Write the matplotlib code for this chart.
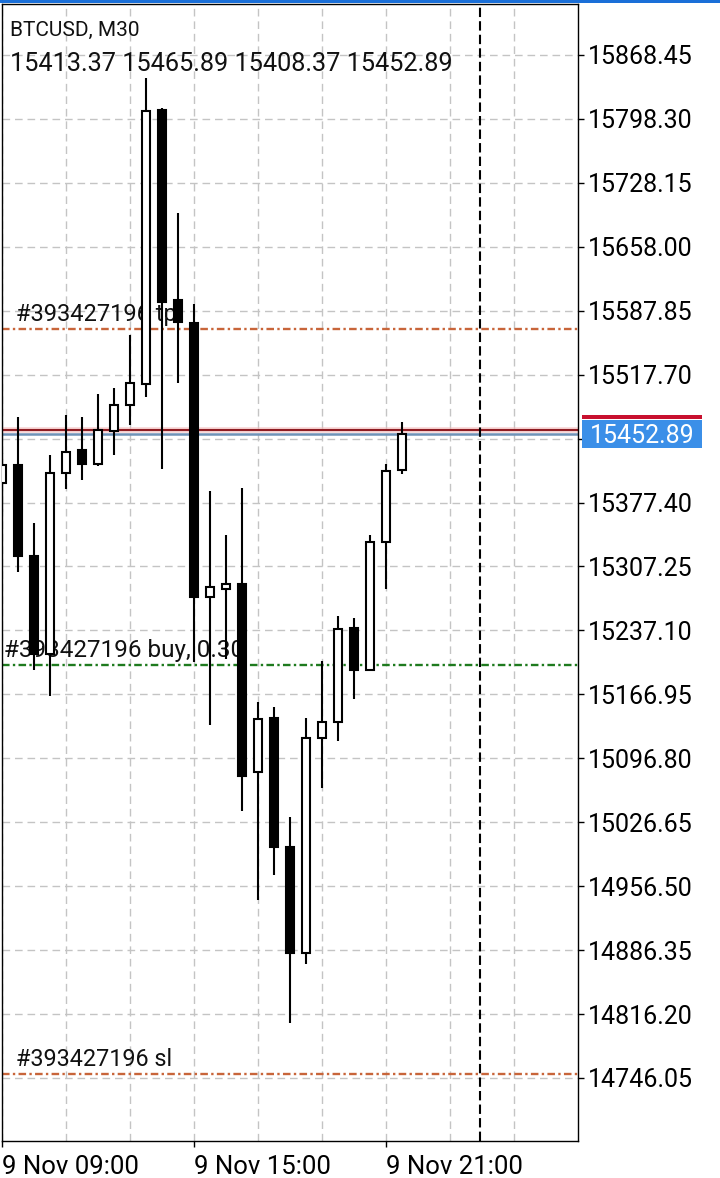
import matplotlib
matplotlib.use("Agg")
import matplotlib.pyplot as plt
from matplotlib.patches import Rectangle

plt.rcParams['font.family'] = ['Roboto', 'DejaVu Sans']

# --- chart data (BTCUSD, M30, 9 Nov 09:00 .. 21:30) ---
symbol = "BTCUSD, M30"
opens = [15398.9, 15419.0, 15318.8, 15211.3, 15409.9, 15435.1, 15419.7, 15456.0,
         15484.5, 15507.5, 15808.1, 15599.7, 15574.4, 15273.8, 15282.6, 15288.1,
         15081.8, 15141.0, 14999.5, 14883.2, 15119.1, 15136.6, 15239.7, 15193.7,
         15334.2, 15413.37]
highs = [15431.8, 15471.3, 15355.0, 15429.6, 15473.5, 15471.3, 15496.5, 15503.1,
         15561.3, 15843.2, 15810.3, 15695.1, 15595.3, 15390.1, 15341.8, 15393.4,
         15158.6, 15153.1, 15032.4, 15141.0, 15203.6, 15253.0, 15250.8, 15341.8,
         15419.7, 15465.89]
lows = [15367.1, 15301.2, 15193.7, 15165.2, 15392.3, 15402.2, 15418.0, 15429.6,
        15462.5, 15493.2, 15414.2, 15508.6, 15202.5, 15133.4, 15205.8, 15039.0,
        14941.4, 14968.8, 14806.4, 14871.1, 15064.2, 15115.8, 15161.9, 15193.0,
        15282.6, 15408.37]
closes = [15418.6, 15318.8, 15211.3, 15409.9, 15432.9, 15419.7, 15457.0, 15484.5,
          15508.6, 15807.0, 15597.5, 15575.5, 15273.8, 15284.8, 15288.1, 15077.4,
          15140.0, 14999.5, 14883.2, 15119.1, 15136.6, 15238.7, 15193.7, 15334.2,
          15412.0, 15452.89]

x_tick_pos = [0, 12, 24]
x_tick_labels = ["9 Nov 09:00", "9 Nov 15:00", "9 Nov 21:00"]
x_grid_pos = [4, 8, 16, 20, 28, 32]
y_tick_labels = ["14746.05", "14816.20", "14886.35", "14956.50", "15026.65",
                 "15096.80", "15166.95", "15237.10", "15307.25", "15377.40",
                 "15447.55", "15517.70", "15587.85", "15658.00", "15728.15",
                 "15798.30", "15868.45"]
hidden_label = "15447.55"  # covered by the bid price tag

ask = 15457.0
bid = 15452.89
order_id = "#393427196"
tp_price = 15567.8
buy_price = 15199.2
sl_price = 14750.4
shift_line = 29.9

# --- figure ---
W, H = 720, 1178
fig = plt.figure(figsize=(W / 100, H / 100), dpi=100)
ax = fig.add_axes([1.5 / W, 37 / H, 576.5 / W, 1137 / H])
ymin, ymax = 14676.9, 15924.4
ax.set_xlim(-0.03, 36.0)
ax.set_ylim(ymin, ymax)
dpu = (ymax - ymin) / 1137.0  # price units per pixel

# grid
ax.set_xticks(x_tick_pos)
ax.set_xticklabels(x_tick_labels, ha='left')
ax.set_xticks(x_grid_pos, minor=True)
ax.set_yticks([float(t) for t in y_tick_labels])
ax.set_yticklabels(['' if t == hidden_label else t for t in y_tick_labels])
ax.yaxis.tick_right()
ax.grid(True, which='both', color='#c4c4c4', lw=1.0, ls=(0, (5.5, 3.5)), zorder=0)
ax.set_axisbelow(True)
ax.tick_params(axis='x', which='major', length=4, width=1, pad=6, labelsize=18.5)
ax.tick_params(axis='x', which='minor', length=0)
ax.tick_params(axis='y', length=4, width=1, pad=3, labelsize=18)
for s in ax.spines.values():
    s.set_linewidth(1.0)
    s.set_color('black')

# candles
w = 0.5
for i, (o, h, l, c) in enumerate(zip(opens, highs, lows, closes)):
    up = c >= o
    ax.vlines(i, l, h, color='black', lw=1.5, zorder=3)
    ax.add_patch(Rectangle((i - w / 2, min(o, c)), w, abs(c - o),
                           facecolor='white' if up else 'black',
                           edgecolor='black', lw=1.5, zorder=4))

# order levels
dashdot = (0, (3.2, 1.4, 1, 1.4))
ax.axhline(tp_price, color='#c8653a', lw=1.7, ls=dashdot, zorder=2)
ax.axhline(sl_price, color='#c8653a', lw=1.7, ls=dashdot, zorder=2)
ax.axhline(buy_price, color='#1e7a1e', lw=1.7, ls=dashdot, zorder=2)
ax.axhline(ask, color='#f4b8b8', lw=4, alpha=0.6, zorder=2)
ax.axhline(ask, color='#8e1c22', lw=1.5, zorder=2)
ax.axhline(bid, color='#6f93b8', lw=1.8, zorder=2)
ax.axvline(shift_line, color='black', lw=1.5, ls=(0, (4.5, 2)), zorder=2)

ytr = ax.get_yaxis_transform()
for txt, price, dx, fs in [(order_id + " tp", tp_price, 15, 17),
                           (order_id + " buy, 0.30", buy_price, 3, 17.5),
                           (order_id + " sl", sl_price, 15, 16.8)]:
    ax.annotate(txt, xy=(0, price), xycoords=ytr, xytext=(dx, 8),
                textcoords='offset pixels', fontsize=fs, va='baseline',
                color='#111111', zorder=2.5)

# header
ax.annotate(symbol, xy=(0, 1), xycoords='axes fraction', xytext=(8, -32),
            textcoords='offset pixels', fontsize=15, va='baseline', color='#111111')
ax.annotate(" ".join(f"{v:.2f}" for v in (opens[-1], highs[-1], lows[-1], closes[-1])),
            xy=(0, 1), xycoords='axes fraction', xytext=(8, -67),
            textcoords='offset pixels', fontsize=18.2, va='baseline', color='#111111')

# bid price tag on the right scale
bx0, bw = (582 - 1.5) / 576.5, 120 / 576.5
ax.add_patch(Rectangle((bx0, bid - 14 * dpu), bw, 28 * dpu, transform=ytr,
                       facecolor='#3b8fe8', edgecolor='none', clip_on=False, zorder=5))
ax.add_patch(Rectangle((bx0, bid + 14.5 * dpu), bw, 4.5 * dpu, transform=ytr,
                       facecolor='#c8102e', edgecolor='none', clip_on=False, zorder=5))
ax.text(bx0 + bw / 2, bid, f"{bid:.2f}", transform=ytr, ha='center',
        va='center_baseline', fontsize=18, color='white', zorder=6, clip_on=False)

# top blue strip
fig.add_artist(Rectangle((0, 1 - 3 / H), 1, 3 / H, transform=fig.transFigure,
                         facecolor='#1a6fd8', edgecolor='none'))

fig.savefig("out.png", dpi=100)
